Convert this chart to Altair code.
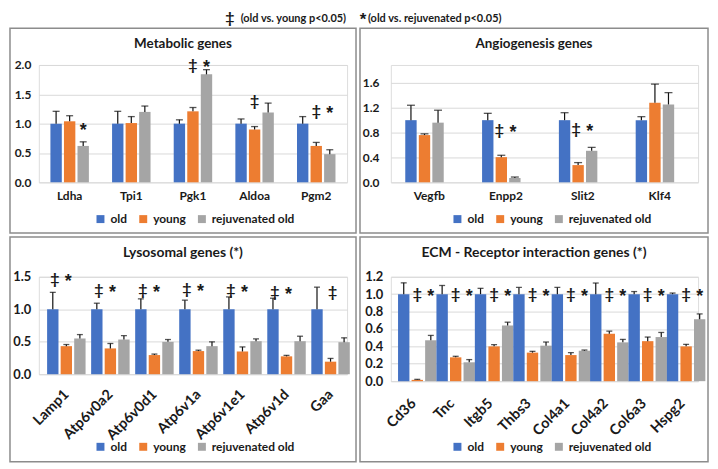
import altair as alt
import pandas as pd

# ---------------- data ----------------
groups = ["old", "young", "rejuvenated old"]
colors = ["#4472C4", "#ED7D31", "#A5A5A5"]

met_genes = ["Ldha", "Tpi1", "Pgk1", "Aldoa", "Pgm2"]
met_old = [1.0, 1.0, 1.0, 1.0, 1.0]
met_old_err = [0.21, 0.21, 0.065, 0.08, 0.12]
met_young = [1.04, 1.01, 1.21, 0.90, 0.62]
met_young_err = [0.095, 0.11, 0.065, 0.05, 0.06]
met_rej = [0.62, 1.20, 1.84, 1.19, 0.48]
met_rej_err = [0.07, 0.10, 0.08, 0.16, 0.075]
met_sig_gene = ["Ldha", "Pgk1", "Pgk1", "Aldoa", "Pgm2", "Pgm2"]
met_sig_group = ["rejuvenated old", "young", "rejuvenated old", "young", "young", "rejuvenated old"]
met_sig_sym = ["*", "‡", "*", "‡", "‡", "*"]
met_sig_y = [0.92, 2.0, 2.0, 1.38, 1.22, 1.22]

ang_genes = ["Vegfb", "Enpp2", "Slit2", "Klf4"]
ang_old = [1.0, 1.0, 1.0, 1.0]
ang_old_err = [0.24, 0.11, 0.12, 0.056]
ang_young = [0.76, 0.405, 0.277, 1.28]
ang_young_err = [0.02, 0.03, 0.04, 0.30]
ang_rej = [0.96, 0.07, 0.507, 1.253]
ang_rej_err = [0.20, 0.015, 0.055, 0.19]
ang_sig_gene = ["Enpp2", "Enpp2", "Slit2", "Slit2"]
ang_sig_group = ["young", "rejuvenated old", "young", "rejuvenated old"]
ang_sig_sym = ["‡", "*", "‡", "*"]
ang_sig_y = [0.84, 0.84, 0.85, 0.85]

lys_genes = ["Lamp1", "Atp6v0a2", "Atp6v0d1", "Atp6v1a", "Atp6v1e1", "Atp6v1d", "Gaa"]
lys_old = [1.0, 1.0, 1.0, 1.0, 1.0, 1.0, 1.0]
lys_old_err = [0.26, 0.093, 0.16, 0.14, 0.19, 0.17, 0.34]
lys_young = [0.432, 0.397, 0.295, 0.356, 0.35, 0.275, 0.193]
lys_young_err = [0.025, 0.076, 0.015, 0.014, 0.07, 0.015, 0.05]
lys_rej = [0.55, 0.534, 0.498, 0.432, 0.508, 0.508, 0.493]
lys_rej_err = [0.06, 0.06, 0.036, 0.066, 0.036, 0.077, 0.067]
lys_sig_gene = ["Lamp1", "Lamp1", "Atp6v0a2", "Atp6v0a2", "Atp6v0d1", "Atp6v0d1",
                "Atp6v1a", "Atp6v1a", "Atp6v1e1", "Atp6v1e1", "Atp6v1d", "Atp6v1d", "Gaa"]
lys_sig_group = ["old", "young", "old", "young", "old", "young",
                 "old", "young", "old", "young", "old", "young", "young"]
lys_sig_sym = ["‡", "*", "‡", "*", "‡", "*", "‡", "*", "‡", "*", "‡", "*", "‡"]
lys_sig_y = [1.46, 1.46, 1.30, 1.30, 1.30, 1.30, 1.31, 1.31, 1.30, 1.30, 1.27, 1.27, 1.26]

ecm_genes = ["Cd36", "Tnc", "Itgb5", "Thbs3", "Col4a1", "Col4a2", "Col6a3", "Hspg2"]
ecm_old = [1.0, 1.0, 1.0, 1.0, 1.0, 1.0, 1.0, 1.0]
ecm_old_err = [0.13, 0.10, 0.067, 0.078, 0.078, 0.128, 0.03, 0.013]
ecm_young = [0.015, 0.274, 0.40, 0.328, 0.30, 0.545, 0.46, 0.40]
ecm_young_err = [0.006, 0.012, 0.02, 0.015, 0.028, 0.03, 0.047, 0.023]
ecm_rej = [0.47, 0.217, 0.64, 0.408, 0.35, 0.446, 0.507, 0.712]
ecm_rej_err = [0.056, 0.031, 0.038, 0.042, 0.008, 0.034, 0.053, 0.061]
ecm_sig_gene = [g for g in ecm_genes for _ in (0, 1)]
ecm_sig_group = ["young", "rejuvenated old"] * 8
ecm_sig_sym = ["‡", "*"] * 8
ecm_sig_y = [1.0] * 16

header_parts = ["‡", "(old vs. young p<0.05)", "*", "(old vs. rejuvenated p<0.05)"]

FONT = "Lato"
STAR_FONT = "Liberation Sans"
TXT = "#1a1a1a"
FRAME = "#8c8c8c"


def bars_df(genes, old, old_e, young, young_e, rej, rej_e):
    rows = []
    for i, g in enumerate(genes):
        for grp, v, e in zip(groups, (old[i], young[i], rej[i]), (old_e[i], young_e[i], rej_e[i])):
            rows.append({"gene": g, "group": grp, "value": v, "upper": v + e})
    return pd.DataFrame(rows)


def sig_df(gs, grs, syms, ys):
    return pd.DataFrame({"gene": gs, "group": grs, "sym": syms, "y": ys})


def panel(df, sdf, genes, w, h, ymax, ticks, frame, title, tpos, tsize, lpos,
          ytick_size, ypad, xlab_size, angle, xpad, xoff, off_inner, cap, sdx, header=False):
    one = pd.DataFrame({"k": [0]})
    if angle == 0:
        xaxis = alt.Axis(title=None, labelAngle=0, labelFont=FONT, labelFontSize=xlab_size,
                         labelFontWeight="bold", labelColor=TXT, domain=False, ticks=False,
                         labelPadding=xpad, grid=False)
    else:
        xaxis = alt.Axis(title=None, labelAngle=angle, labelAlign="right", labelBaseline="middle",
                         labelFont=FONT, labelFontSize=xlab_size, labelFontWeight="bold",
                         labelColor=TXT, domain=False, ticks=False, labelPadding=xpad,
                         labelOffset=xoff, grid=False)
    yaxis = alt.Axis(title=None, values=ticks, format=".1f", labelFont=FONT,
                     labelFontSize=ytick_size, labelFontWeight="bold", labelColor=TXT,
                     domain=False, ticks=False, labelPadding=ypad, grid=True,
                     gridColor="#D9D9D9", gridWidth=1)
    xs = alt.Scale(paddingInner=0.376, paddingOuter=0.188)
    os_ = alt.Scale(domain=groups, paddingInner=off_inner, paddingOuter=0)
    ys = alt.Scale(domain=[0, ymax], nice=False, zero=True)

    def X():
        return alt.X("gene:N", sort=genes, scale=xs, axis=xaxis)

    def XO():
        return alt.XOffset("group:N", sort=groups, scale=os_)

    def Y(field):
        return alt.Y(field + ":Q", scale=ys, axis=yaxis)

    fr = alt.Chart(one).mark_rect(fillOpacity=0, stroke=FRAME, strokeWidth=1.5).encode(
        x=alt.value(frame[0]), x2=alt.value(frame[1]), y=alt.value(frame[2]), y2=alt.value(frame[3]))

    bars = alt.Chart(df).mark_bar().encode(
        x=X(), xOffset=XO(), y=Y("value"),
        color=alt.Color("group:N", sort=groups,
                        scale=alt.Scale(domain=groups, range=colors),
                        legend=alt.Legend(orient="none", legendX=lpos[0], legendY=lpos[1],
                                          direction="horizontal", title=None,
                                          symbolType="square", symbolSize=64,
                                          symbolStrokeWidth=0, labelFont=FONT,
                                          labelFontSize=12, labelFontWeight="bold",
                                          labelColor=TXT, columnPadding=10, labelOffset=4)))
    err = alt.Chart(df).mark_rule(color="#111111", strokeWidth=1.2).encode(
        x=X(), xOffset=XO(), y=Y("value"), y2="upper:Q")
    caps = alt.Chart(df).mark_tick(color="#111111", thickness=1.3, size=cap).encode(
        x=X(), xOffset=XO(), y=Y("upper"))
    dag = alt.Chart(sdf).transform_filter(alt.datum.sym == "‡").mark_text(
        font=FONT, fontSize=16, fontWeight="bold", color=TXT, dx=sdx, baseline="middle").encode(
        x=X(), xOffset=XO(), y=Y("y"), text="sym:N")
    ast = alt.Chart(sdf).transform_filter(alt.datum.sym == "*").mark_text(
        font=STAR_FONT, fontSize=18, fontWeight="bold", color=TXT, dx=sdx, dy=3,
        baseline="middle").encode(
        x=X(), xOffset=XO(), y=Y("y"), text="sym:N")
    ttl = alt.Chart(one).mark_text(text=title, font=FONT, fontSize=tsize, fontWeight="bold",
                                   color=TXT, align="center", baseline="middle").encode(
        x=alt.value(tpos[0]), y=alt.value(tpos[1]))
    layers = [fr, bars, err, caps, dag, ast, ttl]
    if header:
        hy = -47
        layers.append(alt.Chart(one).mark_text(text=header_parts[0], font=FONT, fontSize=16,
                                               fontWeight="bold", color=TXT, align="center",
                                               baseline="middle").encode(
            x=alt.value(192), y=alt.value(hy)))
        layers.append(alt.Chart(one).mark_text(text=header_parts[1], font=FONT, fontSize=11,
                                               fontWeight="bold", color=TXT, align="left",
                                               baseline="middle").encode(
            x=alt.value(203), y=alt.value(hy + 1)))
        layers.append(alt.Chart(one).mark_text(text=header_parts[2], font=STAR_FONT, fontSize=17,
                                               fontWeight="bold", color=TXT, align="center",
                                               baseline="middle").encode(
            x=alt.value(326), y=alt.value(hy + 2)))
        layers.append(alt.Chart(one).mark_text(text=header_parts[3], font=FONT, fontSize=11,
                                               fontWeight="bold", color=TXT, align="left",
                                               baseline="middle").encode(
            x=alt.value(331), y=alt.value(hy + 1)))
    return alt.layer(*layers).properties(width=w, height=h)


met = panel(bars_df(met_genes, met_old, met_old_err, met_young, met_young_err, met_rej, met_rej_err),
            sig_df(met_sig_gene, met_sig_group, met_sig_sym, met_sig_y), met_genes,
            310, 118, 2.0, [0, 0.5, 1.0, 1.5, 2.0], (-29, 319, -37, 169),
            "Metabolic genes", (145, -21), 13.5, (56, 149),
            12, 8, 12, 0, 8, 0, 0.16, 7, 0, header=True)

ang = panel(bars_df(ang_genes, ang_old, ang_old_err, ang_young, ang_young_err, ang_rej, ang_rej_err),
            sig_df(ang_sig_gene, ang_sig_group, ang_sig_sym, ang_sig_y), ang_genes,
            309, 118, 1.6 * 118 / 100, [0, 0.4, 0.8, 1.2, 1.6], (-31, 319, -37, 169),
            "Angiogenesis genes", (144, -21), 13.5, (61, 149),
            12, 12, 12, 0, 8, 0, 0.18, 8, -2)

lys = panel(bars_df(lys_genes, lys_old, lys_old_err, lys_young, lys_young_err, lys_rej, lys_rej_err),
            sig_df(lys_sig_gene, lys_sig_group, lys_sig_sym, lys_sig_y), lys_genes,
            310, 98, 1.5, [0, 0.5, 1.0, 1.5], (-29, 319, -40, 186),
            "Lysosomal genes (*)", (145, -24), 14, (56, 165),
            13, 8, 14.5, -45, 18, 6, 0.2, 6, 2)

ecm = panel(bars_df(ecm_genes, ecm_old, ecm_old_err, ecm_young, ecm_young_err, ecm_rej, ecm_rej_err),
            sig_df(ecm_sig_gene, ecm_sig_group, ecm_sig_sym, ecm_sig_y), ecm_genes,
            309, 105, 1.2, [0, 0.2, 0.4, 0.6, 0.8, 1.0, 1.2], (-31, 319, -40, 186),
            "ECM - Receptor interaction genes  (*)", (144, -24), 14, (61, 165),
            13, 8, 14.5, -45, 20, 4, 0.12, 6, 0)

chart = alt.concat(met, ang, lys, ecm, columns=2,
                   spacing=alt.RowColnumber(row=95, column=44),
                   bounds="flush", padding=0).resolve_scale(
    color="independent").configure_view(stroke=None).configure(background="white")

chart.save("out.html", embed_options={"renderer": "svg", "actions": False})
